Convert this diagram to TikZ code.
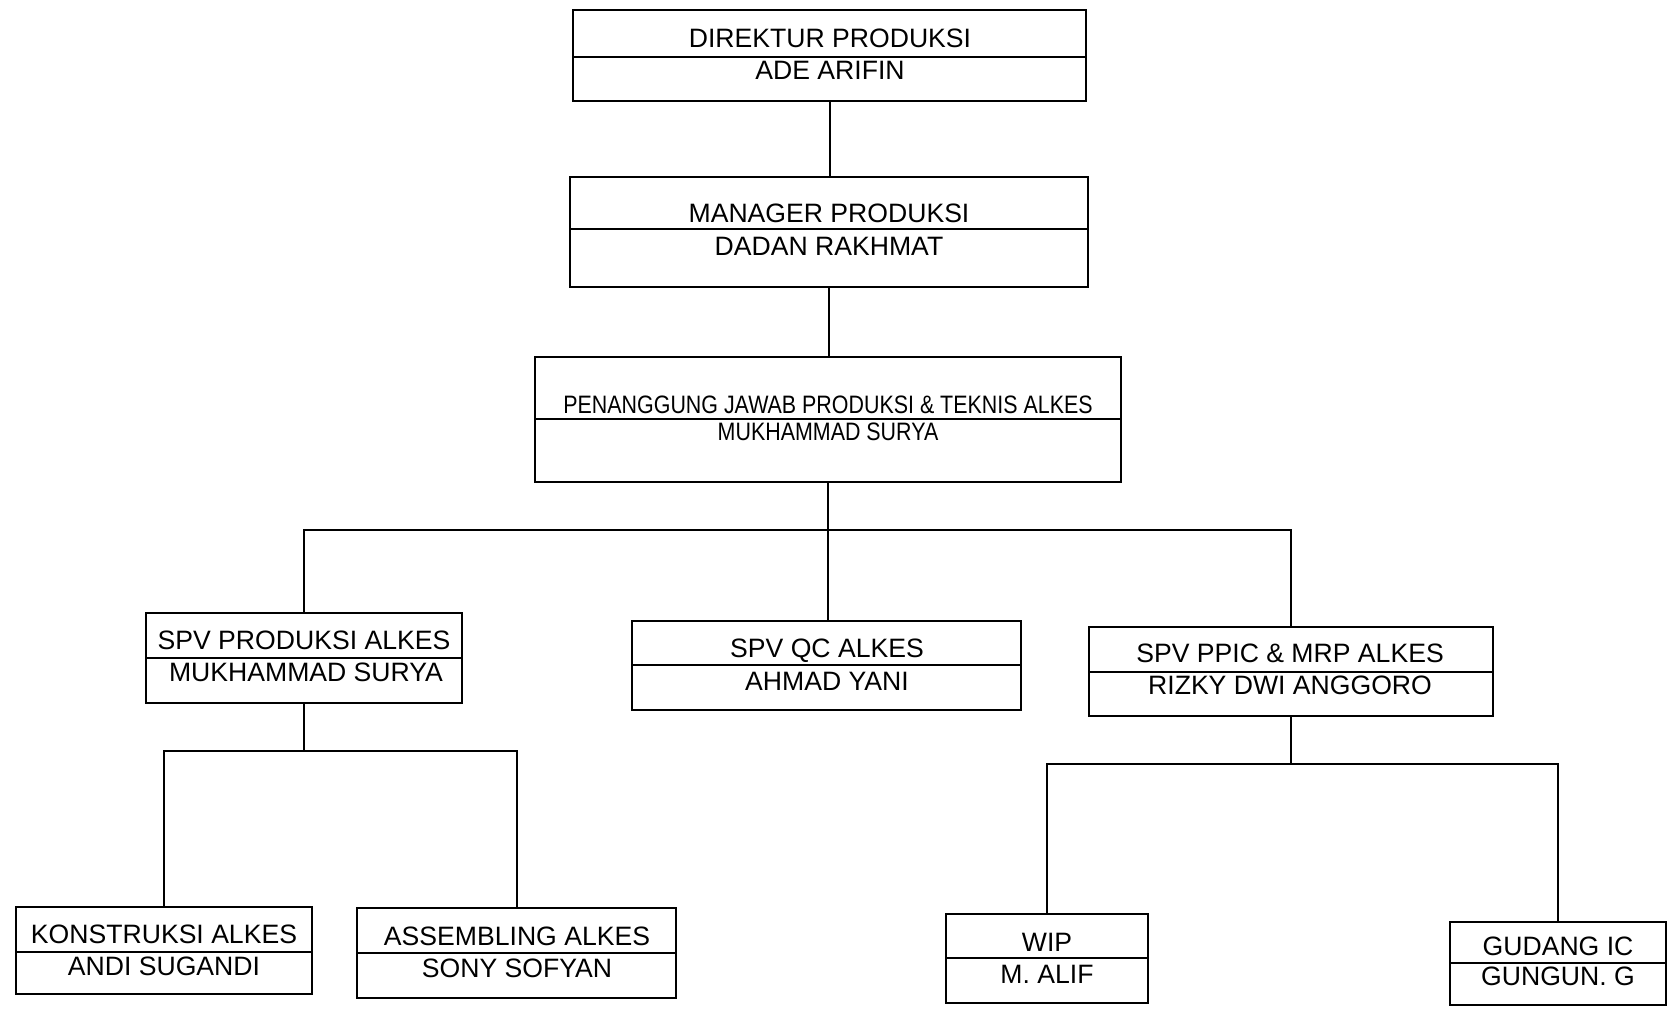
\documentclass[tikz,border=0pt]{standalone}
\usepackage{fontspec}
\setmainfont{Liberation Sans}
\newfontfamily\sempit[FakeStretch=0.85]{Liberation Sans}
\usetikzlibrary{positioning,calc}
\tikzset{
	every node/.style={font=\fontsize{13.3}{16}\selectfont}
}
\tikzset{
	kotak/.style={draw,rectangle,inner sep=0pt},
	teks/.style={inner sep=0pt,text depth=0pt},
	kecil/.style={teks,font=\sempit\fontsize{12.6}{15}\selectfont}
}

\begin{document}
\begin{tikzpicture}[x=0.5pt,y=-0.5pt,line width=1pt]
      \path[fill=white,use as bounding box] (0,0) rectangle (1673,1008);
      % kotak jabatan
      \node[kotak,minimum width=256.5pt,minimum height=45.5pt] (dir) at (829.5,55.5) {};
      \node[kotak,minimum width=259pt,minimum height=55pt] (man) at (829,232) {};
      \node[kotak,minimum width=293pt,minimum height=62.5pt] (pj) at (828,419.5) {};
      \node[kotak,minimum width=158pt,minimum height=45pt] (prod) at (304,658) {};
      \node[kotak,minimum width=194.5pt,minimum height=44.5pt] (qc) at (826.5,665.5) {};
      \node[kotak,minimum width=202pt,minimum height=44.5pt] (ppic) at (1291,671.5) {};
      \node[kotak,minimum width=148pt,minimum height=43.5pt] (kons) at (164,950.5) {};
      \node[kotak,minimum width=159.5pt,minimum height=45pt] (asm) at (516.5,953) {};
      \node[kotak,minimum width=101pt,minimum height=44.5pt] (wip) at (1047,958.5) {};
      \node[kotak,minimum width=108pt,minimum height=41.5pt] (gud) at (1558,963.5) {};
      % garis pembagi
      \draw (dir.west |- 0,57) -- (dir.east |- 0,57);
      \draw (man.west |- 0,229) -- (man.east |- 0,229);
      \draw (pj.west |- 0,419) -- (pj.east |- 0,419);
      \draw (prod.west |- 0,658) -- (prod.east |- 0,658);
      \draw (qc.west |- 0,665) -- (qc.east |- 0,665);
      \draw (ppic.west |- 0,672) -- (ppic.east |- 0,672);
      \draw (kons.west |- 0,952) -- (kons.east |- 0,952);
      \draw (asm.west |- 0,953) -- (asm.east |- 0,953);
      \draw (wip.west |- 0,958) -- (wip.east |- 0,958);
      \draw (gud.west |- 0,963) -- (gud.east |- 0,963);
      % teks
      \node[teks] (dir-jab) at (830,38) {DIREKTUR PRODUKSI};
      \node[teks] (dir-nama) at (830,70) {ADE ARIFIN};
      \node[teks] (man-jab) at (829,213) {MANAGER PRODUKSI};
      \node[teks] (man-nama) at (829,246) {DADAN RAKHMAT};
      \node[kecil] (pj-jab) at (828,405) {PENANGGUNG JAWAB PRODUKSI \& TEKNIS ALKES};
      \node[kecil] (pj-nama) at (828,432) {MUKHAMMAD SURYA};
      \node[teks] (prod-jab) at (304,640) {SPV PRODUKSI ALKES};
      \node[teks] (prod-nama) at (306,672) {MUKHAMMAD SURYA};
      \node[teks] (qc-jab) at (827,648) {SPV QC ALKES};
      \node[teks] (qc-nama) at (827,681) {AHMAD YANI};
      \node[teks] (ppic-jab) at (1290,653) {SPV PPIC \& MRP ALKES};
      \node[teks] (ppic-nama) at (1290,685) {RIZKY DWI ANGGORO};
      \node[teks] (kons-jab) at (164,934) {KONSTRUKSI ALKES};
      \node[teks] (kons-nama) at (164,966) {ANDI SUGANDI};
      \node[teks] (asm-jab) at (517,936) {ASSEMBLING ALKES};
      \node[teks] (asm-nama) at (517,968) {SONY SOFYAN};
      \node[teks] (wip-jab) at (1047,942) {WIP};
      \node[teks] (wip-nama) at (1047,974) {M. ALIF};
      \node[teks] (gud-jab) at (1558,946) {GUDANG IC};
      \node[teks] (gud-nama) at (1558,976) {GUNGUN. G};
      % garis hubung
      \coordinate (bus1) at (828,530);
      \coordinate (bus2) at (304,751);
      \coordinate (bus3) at (1291,764);
      \draw (dir.south) -- (dir.south |- man.north);
      \draw (man.south) -- (man.south |- pj.north);
      \draw (pj.south) -- (bus1);
      \draw (prod.north) |- (bus1) -| (ppic.north);
      \draw (bus1) -- (bus1 |- qc.north);
      \draw (prod.south) -- (bus2);
      \draw (kons.north) |- (bus2) -| (asm.north);
      \draw (ppic.south) -- (bus3);
      \draw (wip.north) |- (bus3) -| (gud.north);
\end{tikzpicture}
\end{document}
